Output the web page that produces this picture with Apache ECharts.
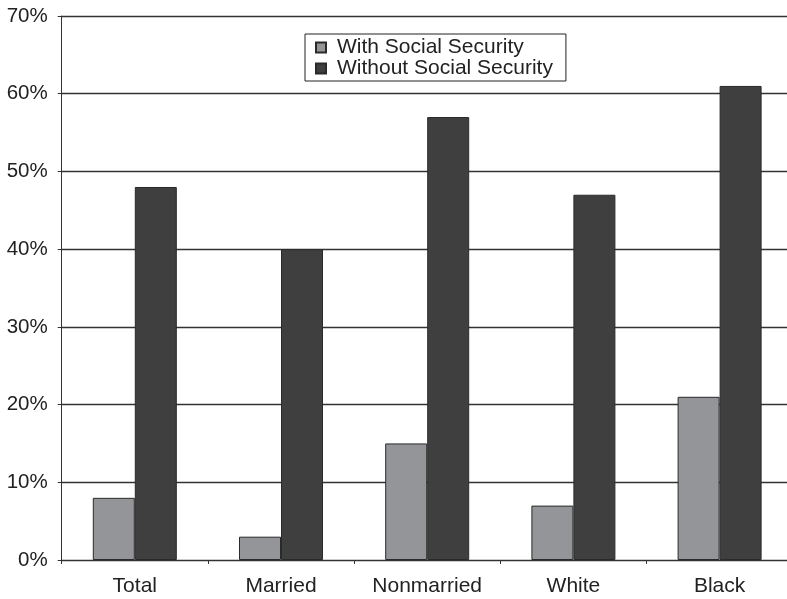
<!DOCTYPE html>
<html>
<head>
<meta charset="utf-8">
<script src="https://cdn.jsdelivr.net/npm/echarts@6/dist/echarts.min.js"></script>
<style>
  html, body { margin: 0; padding: 0; background: #fff; }
  #chart { width: 787px; height: 599px; }
</style>
</head>
<body>
<div id="chart"></div>
<script>
// Poverty rates by group, with and without Social Security income (%)
const categories = ['Total', 'Married', 'Nonmarried', 'White', 'Black'];
const withSS = [8, 3, 15, 7, 21];
const withoutSS = [48, 40, 57, 47, 61];
const seriesNames = ['With Social Security', 'Without Social Security'];

const font = 'Liberation Sans, Arial, sans-serif';
const chart = echarts.init(document.getElementById('chart'), null, { renderer: 'canvas' });

chart.setOption({
  animation: false,
  backgroundColor: '#ffffff',
  textStyle: { fontFamily: font },
  grid: {
    left: 61.7, top: 16, width: 731, height: 544,
    outerBoundsMode: 'none', containLabel: false
  },
  legend: {
    data: seriesNames,
    orient: 'vertical',
    left: 305,
    top: 34,
    itemGap: 0,
    itemWidth: 10,
    itemHeight: 10,
    padding: [3, 13, 2, 10],
    borderColor: '#222',
    borderWidth: 1,
    icon: 'rect',
    textStyle: { fontSize: 21, lineHeight: 20, color: '#222', fontFamily: font, padding: [0, 0, 0, 6] }
  },
  xAxis: {
    type: 'category',
    data: categories,
    axisLine: { show: true, lineStyle: { color: '#333', width: 1 } },
    axisTick: { show: true, length: 4, lineStyle: { color: '#333' } },
    axisLabel: { fontSize: 21, color: '#222', margin: 16, fontFamily: font },
    splitLine: { show: false }
  },
  yAxis: {
    type: 'value',
    min: 0,
    max: 70,
    interval: 10,
    axisLine: { show: true, lineStyle: { color: '#333', width: 1 } },
    axisTick: { show: true, length: 4, lineStyle: { color: '#333' } },
    axisLabel: { fontSize: 20.5, color: '#222', margin: 14, fontFamily: font, formatter: '{value}%' },
    splitLine: { show: true, lineStyle: { color: '#333', width: 1.3 } }
  },
  series: [
    {
      name: seriesNames[0],
      type: 'bar',
      data: withSS,
      barWidth: 42,
      barGap: '0%',
      itemStyle: { color: '#939598', borderColor: '#2a2a2a', borderWidth: 1 }
    },
    {
      name: seriesNames[1],
      type: 'bar',
      data: withoutSS,
      barWidth: 42,
      barGap: '0%',
      itemStyle: { color: '#3f3f3f', borderColor: '#2a2a2a', borderWidth: 1 }
    }
  ]
});
</script>
</body>
</html>
